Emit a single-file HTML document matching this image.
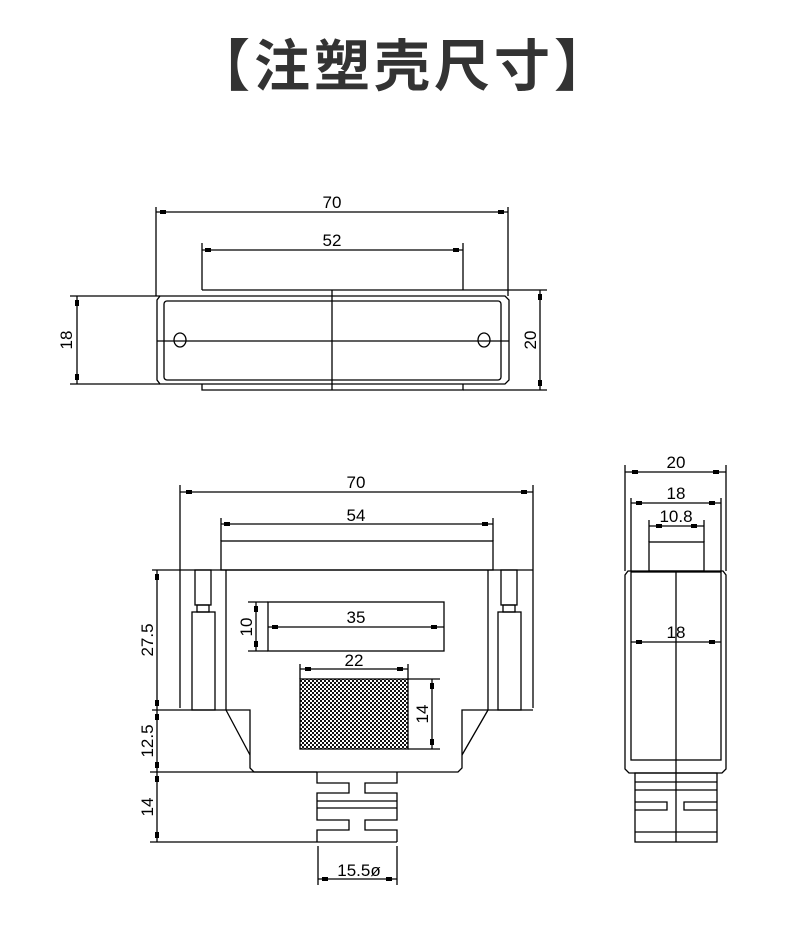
<!DOCTYPE html>
<html><head><meta charset="utf-8"><style>
html,body{margin:0;padding:0;background:#fff;}
svg{display:block;}
text{font-family:"Liberation Sans","DejaVu Sans",sans-serif;fill:#000;}
.title{position:absolute;left:0;top:34px;width:790px;text-align:center;font-family:"Liberation Sans","Noto Sans CJK SC",sans-serif;font-weight:bold;font-size:56px;line-height:66px;color:#333;letter-spacing:4px;padding-left:18px;box-sizing:border-box;}
</style></head><body>
<div class="title">【注塑壳尺寸】</div>
<svg width="790" height="935" viewBox="0 0 790 935" xmlns="http://www.w3.org/2000/svg">
<defs>
<pattern id="h" width="4" height="4" patternUnits="userSpaceOnUse">
<rect width="4" height="4" fill="#fff"/><rect width="2" height="2" fill="#111"/><rect x="2" y="2" width="2" height="2" fill="#111"/>
</pattern>
</defs>

<g stroke="#000" stroke-width="1.3" fill="none">
<line x1="156" y1="207" x2="156" y2="296"/><line x1="508" y1="207" x2="508" y2="296"/>
<line x1="156" y1="212" x2="508" y2="212"/>
<line x1="202" y1="243" x2="202" y2="290"/><line x1="463" y1="243" x2="463" y2="290"/>
<line x1="202" y1="250" x2="463" y2="250"/>
<line x1="202" y1="290" x2="547" y2="290"/>
<path d="M160,296 H505 L509,300 V380 L505,384 H160 L157,380 V300 Z"/>
<rect x="164" y="301" width="337" height="79" rx="3"/>
<path d="M202,384 V390 H463 V384"/>
<line x1="463" y1="390" x2="547" y2="390"/>
<line x1="332" y1="290" x2="332" y2="390"/>
<line x1="157" y1="341" x2="509" y2="341"/>
<ellipse cx="180" cy="340" rx="6" ry="7"/><ellipse cx="484" cy="340" rx="6" ry="7"/>
<line x1="70" y1="296" x2="160" y2="296"/><line x1="70" y1="384" x2="160" y2="384"/>
<line x1="77" y1="296" x2="77" y2="384"/>
<line x1="540" y1="290" x2="540" y2="390"/>

<line x1="180" y1="485" x2="180" y2="570"/><line x1="533" y1="485" x2="533" y2="570"/>
<line x1="180" y1="492" x2="533" y2="492"/>
<line x1="221" y1="518" x2="221" y2="541"/><line x1="493" y1="518" x2="493" y2="541"/>
<line x1="221" y1="524" x2="493" y2="524"/>
<rect x="221" y="541" width="272" height="29"/>
<line x1="152" y1="570" x2="533" y2="570"/>
<line x1="180" y1="570" x2="180" y2="708"/><line x1="533" y1="570" x2="533" y2="708"/>
<rect x="195" y="570" width="16" height="35"/><rect x="197" y="605" width="12" height="7"/><rect x="192" y="612" width="23" height="98"/>
<rect x="501" y="570" width="16" height="35"/><rect x="503" y="605" width="12" height="7"/><rect x="498" y="612" width="23" height="98"/>
<line x1="226" y1="570" x2="226" y2="710"/><line x1="488" y1="570" x2="488" y2="710"/>
<path d="M152,710 H250 V768 L254,772 H458 L462,768 V710 H533"/>
<line x1="226" y1="710" x2="250" y2="755"/><line x1="488" y1="710" x2="462" y2="755"/>
<line x1="150" y1="772" x2="317" y2="772"/>
<rect x="268" y="602" width="176" height="49"/>
<line x1="248" y1="602" x2="268" y2="602"/><line x1="248" y1="651" x2="268" y2="651"/>
<line x1="256" y1="602" x2="256" y2="651"/>
<line x1="268" y1="627" x2="444" y2="627"/>
<line x1="300" y1="664" x2="300" y2="679"/><line x1="408" y1="664" x2="408" y2="679"/>
<line x1="300" y1="669" x2="408" y2="669"/>
<rect x="300" y="679" width="108" height="70" fill="url(#h)"/>
<line x1="408" y1="679" x2="440" y2="679"/><line x1="408" y1="749" x2="440" y2="749"/>
<line x1="432" y1="679" x2="432" y2="749"/>
<line x1="157" y1="570" x2="157" y2="842"/>
<path d="M317,772 V783 H349 V793 H317 V820 H349 V830 H317 V842"/>
<path d="M397,772 V783 H365 V793 H397 V820 H365 V830 H397 V842"/>
<line x1="317" y1="801" x2="397" y2="801"/><line x1="317" y1="808" x2="397" y2="808"/>
<line x1="150" y1="842" x2="397" y2="842"/>
<line x1="318" y1="846" x2="318" y2="885"/><line x1="397" y1="846" x2="397" y2="885"/>
<line x1="318" y1="879" x2="397" y2="879"/>

<line x1="625" y1="465" x2="625" y2="571"/><line x1="726" y1="465" x2="726" y2="571"/>
<line x1="625" y1="472" x2="726" y2="472"/>
<line x1="631" y1="498" x2="631" y2="571"/><line x1="721" y1="498" x2="721" y2="571"/>
<line x1="631" y1="503" x2="721" y2="503"/>
<line x1="649" y1="520" x2="649" y2="542"/><line x1="704" y1="520" x2="704" y2="542"/>
<line x1="649" y1="526" x2="704" y2="526"/>
<rect x="649" y="542" width="55" height="29"/>
<path d="M628,571 H723 L726,575 V769 L722,773 H629 L625,769 V575 Z"/>
<rect x="631" y="572" width="90" height="188"/>
<line x1="676" y1="571" x2="676" y2="842"/>
<line x1="631" y1="642" x2="721" y2="642"/>
<rect x="635" y="773" width="82" height="69"/>
<line x1="635" y1="782" x2="717" y2="782"/><line x1="635" y1="790" x2="717" y2="790"/>
<line x1="635" y1="832" x2="717" y2="832"/>
<path d="M635,802 H667 V810 H635"/><path d="M717,802 H684 V810 H717"/>
</g>
<g fill="#000">
<rect x="160" y="210" width="6" height="4"/><rect x="498" y="210" width="6" height="4"/>
<rect x="205" y="248" width="6" height="4"/><rect x="453" y="248" width="6" height="4"/>
<rect x="75" y="300" width="4" height="6"/><rect x="75" y="374" width="4" height="6"/>
<rect x="538" y="294" width="4" height="6"/><rect x="538" y="380" width="4" height="6"/>
<rect x="186" y="490" width="6" height="4"/><rect x="521" y="490" width="6" height="4"/>
<rect x="224" y="522" width="6" height="4"/><rect x="482" y="522" width="6" height="4"/>
<rect x="272" y="625" width="6" height="4"/><rect x="431" y="625" width="6" height="4"/>
<rect x="254" y="606" width="4" height="6"/><rect x="254" y="641" width="4" height="6"/>
<rect x="305" y="667" width="6" height="4"/><rect x="397" y="667" width="6" height="4"/>
<rect x="430" y="683" width="4" height="6"/><rect x="430" y="739" width="4" height="6"/>
<rect x="155" y="574" width="4" height="6"/><rect x="155" y="700" width="4" height="6"/>
<rect x="155" y="714" width="4" height="6"/><rect x="155" y="762" width="4" height="6"/>
<rect x="155" y="776" width="4" height="6"/><rect x="155" y="832" width="4" height="6"/>
<rect x="322" y="877" width="6" height="4"/><rect x="386" y="877" width="6" height="4"/>
<rect x="632" y="470" width="6" height="4"/><rect x="713" y="470" width="6" height="4"/>
<rect x="636" y="501" width="6" height="4"/><rect x="709" y="501" width="6" height="4"/>
<rect x="656" y="524" width="6" height="4"/><rect x="691" y="524" width="6" height="4"/>
<rect x="636" y="640" width="6" height="4"/><rect x="709" y="640" width="6" height="4"/>
</g>
<g font-size="17">
<text x="332" y="208" text-anchor="middle">70</text>
<text x="332" y="246" text-anchor="middle">52</text>
<text transform="translate(72,340) rotate(-90)" text-anchor="middle">18</text>
<text transform="translate(536,340) rotate(-90)" text-anchor="middle">20</text>
<text x="356" y="488" text-anchor="middle">70</text>
<text x="356" y="521" text-anchor="middle">54</text>
<text x="356" y="623" text-anchor="middle">35</text>
<text transform="translate(252,627) rotate(-90)" text-anchor="middle">10</text>
<text x="354" y="666" text-anchor="middle">22</text>
<text transform="translate(428,714) rotate(-90)" text-anchor="middle">14</text>
<text transform="translate(153,640) rotate(-90)" text-anchor="middle">27.5</text>
<text transform="translate(153,741) rotate(-90)" text-anchor="middle">12.5</text>
<text transform="translate(153,807) rotate(-90)" text-anchor="middle">14</text>
<text x="359" y="876" text-anchor="middle">15.5ø</text>
<text x="676" y="468" text-anchor="middle">20</text>
<text x="676" y="499" text-anchor="middle">18</text>
<text x="676" y="522" text-anchor="middle">10.8</text>
<text x="676" y="638" text-anchor="middle">18</text>
</g>
</svg>
</body></html>
